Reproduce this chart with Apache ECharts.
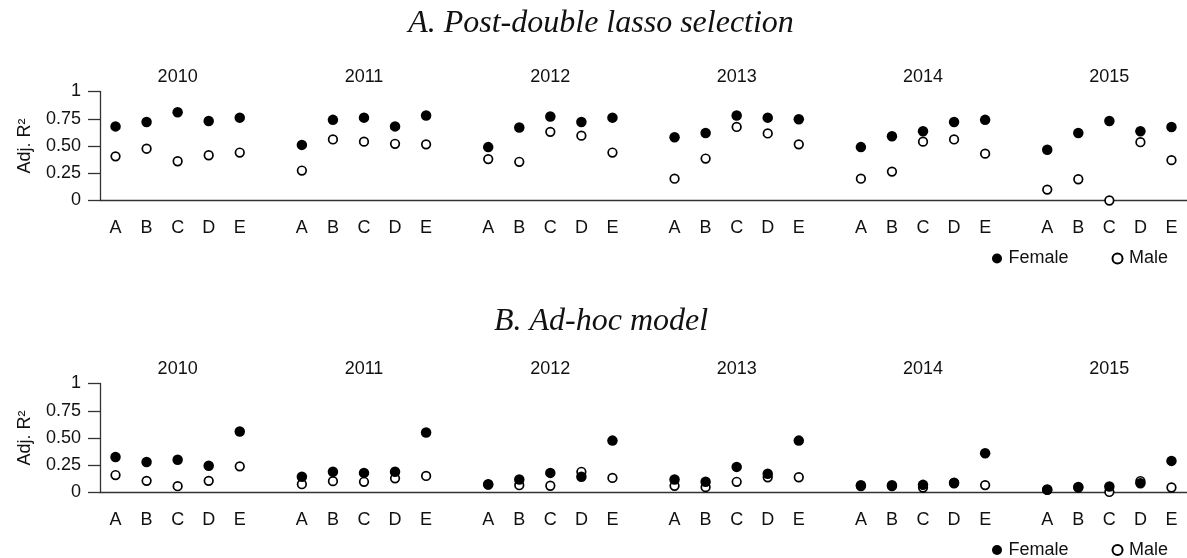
<!DOCTYPE html>
<html>
<head>
<meta charset="utf-8">
<script src="https://cdn.jsdelivr.net/npm/echarts@6/dist/echarts.min.js"></script>
<style>
  html, body { margin: 0; padding: 0; background: #fff; }
  #chart { width: 1187px; height: 558px; }
</style>
</head>
<body>
<div id="chart"></div>
<script>
// Survey years and model variants shown in each year block
const years = ['2010', '2011', '2012', '2013', '2014', '2015'];
const models = ['A', 'B', 'C', 'D', 'E'];

// Adjusted R² per year (5 models each), panel A: post-double lasso selection
const lassoFemale = [
  0.68, 0.72, 0.81, 0.73, 0.76,
  0.51, 0.74, 0.76, 0.68, 0.78,
  0.49, 0.67, 0.77, 0.72, 0.76,
  0.58, 0.62, 0.78, 0.76, 0.745,
  0.49, 0.59, 0.635, 0.72, 0.74,
  0.465, 0.62, 0.73, 0.635, 0.675
];
const lassoMale = [
  0.405, 0.475, 0.36, 0.415, 0.44,
  0.275, 0.56, 0.54, 0.52, 0.515,
  0.38, 0.355, 0.63, 0.595, 0.44,
  0.2, 0.385, 0.675, 0.615, 0.515,
  0.2, 0.265, 0.54, 0.56, 0.43,
  0.1, 0.195, 0.0, 0.535, 0.37
];

// Panel B: ad-hoc model
const adhocFemale = [
  0.325, 0.28, 0.3, 0.245, 0.56,
  0.145, 0.19, 0.18, 0.19, 0.55,
  0.076, 0.12, 0.18, 0.145, 0.476,
  0.12, 0.098, 0.235, 0.172, 0.476,
  0.067, 0.067, 0.07, 0.09, 0.36,
  0.028, 0.05, 0.055, 0.085, 0.29
];
const adhocMale = [
  0.16, 0.107, 0.058, 0.107, 0.24,
  0.076, 0.104, 0.098, 0.13, 0.152,
  0.072, 0.067, 0.062, 0.19, 0.134,
  0.061, 0.049, 0.098, 0.14, 0.14,
  0.058, 0.058, 0.045, 0.085, 0.068,
  0.024, 0.045, 0.005, 0.105, 0.046
];

// Category slots: five models per year, one empty slot between years
const slots = [];
years.forEach((y, yi) => {
  models.forEach(m => slots.push(y + '|' + m));
  if (yi < years.length - 1) slots.push('gap' + yi);
});
const slotIndex = (i) => Math.floor(i / models.length) * (models.length + 1) + (i % models.length);
const pairs = (vals) => vals.map((v, i) => [slotIndex(i), v]);

const FONT = 'Liberation Sans, Arial, Helvetica, sans-serif';
const AXIS = '#333';
const gridTops = [91.5, 383.5];
const PLOT_H = 109;

const grids = gridTops.map(t => ({ left: 100, top: t, width: 1092.7, height: PLOT_H }));

const xAxes = [];
const yAxes = [];
gridTops.forEach((t, gi) => {
  xAxes.push({
    type: 'category', gridIndex: gi, data: slots, position: 'bottom',
    axisLine: { lineStyle: { color: AXIS, width: 1.3 } },
    axisTick: { alignWithLabel: true, length: 10, lineStyle: { color: AXIS, width: 1.3 },
      interval: (i, v) => v.indexOf('|') > 0 },
    axisLabel: { interval: 0, margin: 18.5, color: '#111', fontFamily: FONT, fontSize: 18,
      formatter: v => v.indexOf('|') > 0 ? v.split('|')[1] : '' },
    splitLine: { show: false }
  });
  xAxes.push({
    type: 'category', gridIndex: gi, data: slots, position: 'top',
    axisLine: { show: false }, axisTick: { show: false }, splitLine: { show: false },
    axisLabel: { interval: 0, margin: 5, color: '#111', fontFamily: FONT, fontSize: 18,
      formatter: v => (v.indexOf('|') > 0 && v.split('|')[1] === 'C') ? v.split('|')[0] : '' }
  });
  yAxes.push({
    type: 'value', gridIndex: gi, min: 0, max: 1, interval: 0.25,
    name: 'Adj. R²', nameLocation: 'middle', nameGap: 66,
    nameTextStyle: { color: '#111', fontFamily: FONT, fontSize: 18 },
    axisLine: { show: true, lineStyle: { color: AXIS, width: 1.3 } },
    axisTick: { show: true, length: 12, lineStyle: { color: AXIS, width: 1.3 } },
    axisLabel: { margin: 19, color: '#111', fontFamily: FONT, fontSize: 18,
      formatter: v => (v === 0 || v === 1) ? String(v) : v.toFixed(2) },
    splitLine: { show: false }
  });
});

const maleStyle = { color: '#fff', borderColor: '#000', borderWidth: 1.7, opacity: 1 };
const femaleStyle = { color: '#000', opacity: 1 };
const panelData = [[lassoFemale, lassoMale], [adhocFemale, adhocMale]];
const series = [];
panelData.forEach(([fem, mal], gi) => {
  series.push({ name: 'Male', type: 'scatter', xAxisIndex: gi * 2, yAxisIndex: gi,
    symbol: 'circle', symbolSize: 8.6, itemStyle: maleStyle, data: pairs(mal), z: 2 });
  series.push({ name: 'Female', type: 'scatter', xAxisIndex: gi * 2, yAxisIndex: gi,
    symbol: 'circle', symbolSize: 10.5, itemStyle: femaleStyle, data: pairs(fem), z: 3 });
});

const legendTops = [244.5, 536];
const legends = legendTops.map(t => ({
  data: ['Female', 'Male'], left: 987, top: t, orient: 'horizontal',
  itemWidth: 13, itemHeight: 10, itemGap: 43, icon: 'circle',
  itemStyle: { opacity: 1 },
  textStyle: { color: '#111', fontFamily: FONT, fontSize: 18 },
  selectedMode: false
}));

const titleStyle = { color: '#111', fontFamily: 'Liberation Serif, Times New Roman, serif',
  fontStyle: 'italic', fontWeight: 'normal', fontSize: 32 };
const titles = [
  { text: 'A. Post-double lasso selection', left: 596, top: 3, textAlign: 'center', textStyle: titleStyle },
  { text: 'B. Ad-hoc model', left: 596, top: 301, textAlign: 'center', textStyle: titleStyle }
];

const chart = echarts.init(document.getElementById('chart'), null, { renderer: 'canvas' });
chart.setOption({
  animation: false,
  backgroundColor: '#fff',
  title: titles,
  legend: legends,
  grid: grids,
  xAxis: xAxes,
  yAxis: yAxes,
  series: series
});
</script>
</body>
</html>
